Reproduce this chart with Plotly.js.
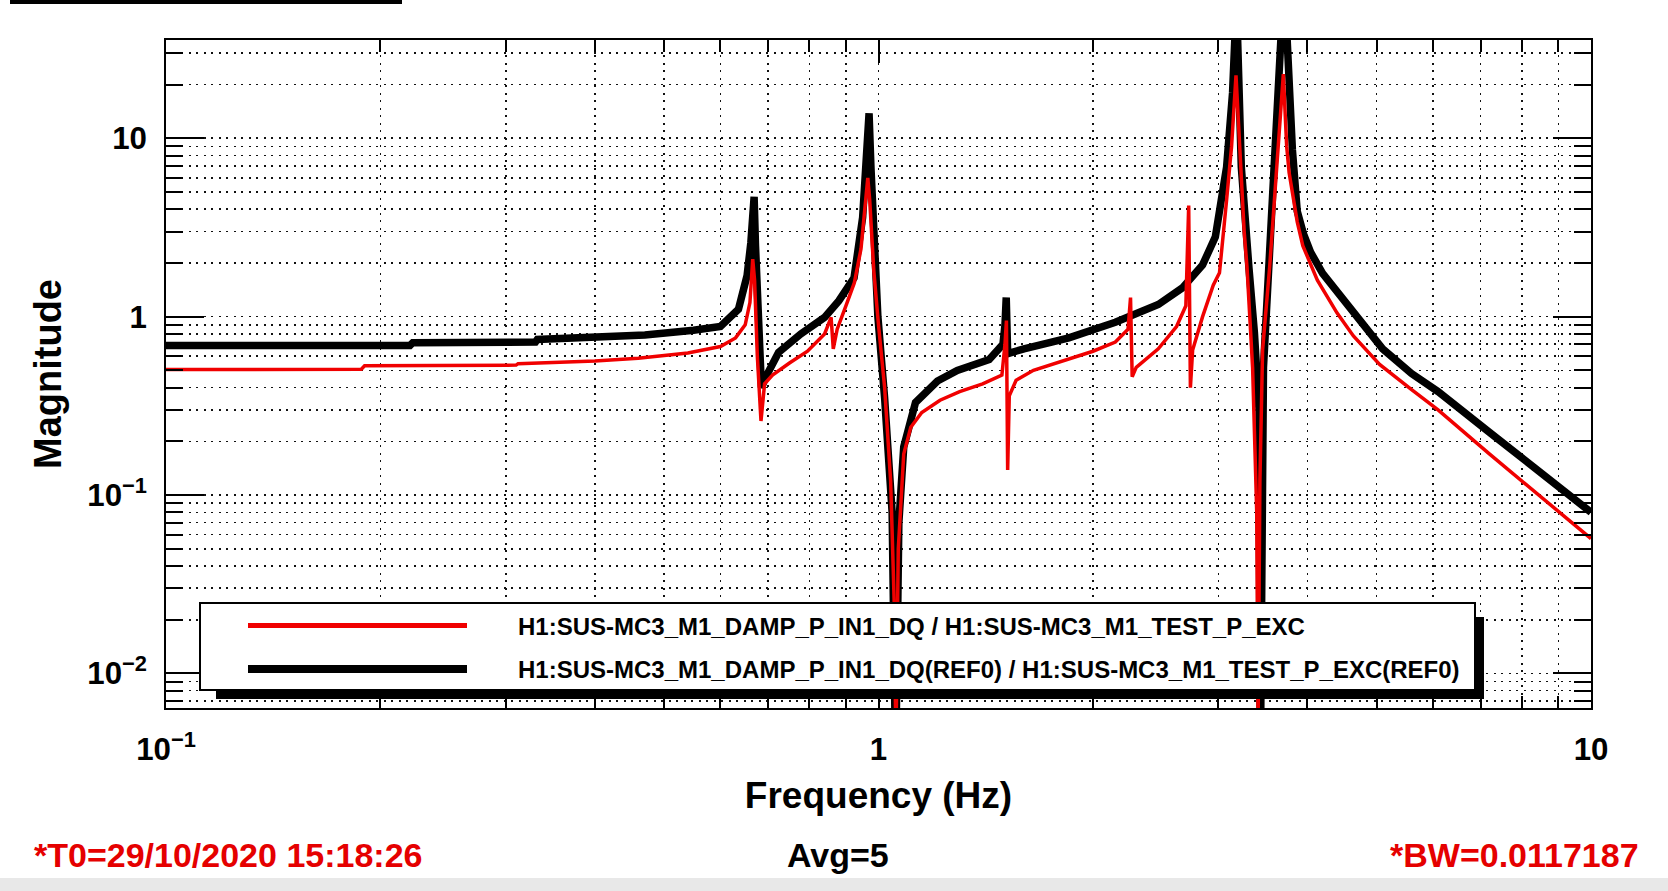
<!DOCTYPE html>
<html>
<head>
<meta charset="utf-8">
<script src="https://cdn.plot.ly/plotly-3.0.1.min.js"></script>
<style>html,body{margin:0;padding:0;background:#fff;}#chart{width:1668px;height:891px;}</style>
</head>
<body>
<div id="chart"></div>
<script>
// ---- data ----
// measurement: H1:SUS-MC3_M1_DAMP_P_IN1_DQ / H1:SUS-MC3_M1_TEST_P_EXC (red)
const measFreq = [0.100,0.188,0.190,0.310,0.312,0.400,0.460,0.540,0.600,0.630,0.650,0.660,0.666,0.670,0.676,0.684,0.692,0.710,0.750,0.795,0.840,0.858,0.864,0.875,0.900,0.925,0.945,0.958,0.966,0.972,0.985,1.000,1.020,1.040,1.052,1.058,1.066,1.085,1.110,1.150,1.220,1.300,1.400,1.490,1.505,1.512,1.518,1.526,1.560,1.650,1.850,2.000,2.150,2.240,2.258,2.270,2.300,2.470,2.620,2.700,2.725,2.740,2.760,2.850,2.950,3.010,3.080,3.130,3.175,3.220,3.260,3.290,3.350,3.395,3.410,3.430,3.460,3.540,3.620,3.660,3.700,3.740,3.770,3.870,3.940,4.130,4.400,4.640,5.050,5.600,6.100,7.200,8.500,10.00];
const measMag  = [0.505,0.507,0.530,0.535,0.545,0.565,0.585,0.625,0.680,0.760,0.900,1.200,2.100,1.600,0.600,0.260,0.420,0.470,0.550,0.640,0.800,0.990,0.660,0.850,1.150,1.550,2.400,4.000,6.000,4.500,1.800,0.900,0.400,0.120,0.025,0.004,0.050,0.170,0.240,0.290,0.340,0.380,0.420,0.470,0.700,0.950,0.138,0.360,0.440,0.500,0.580,0.640,0.720,0.850,1.280,0.460,0.520,0.660,0.880,1.150,4.200,0.400,0.650,1.000,1.500,1.760,4.500,9.000,22.50,7.500,3.000,1.900,0.520,0.080,0.005,0.120,0.650,1.900,6.400,12.00,22.90,9.000,6.400,3.400,2.500,1.600,1.050,0.780,0.540,0.390,0.300,0.170,0.098,0.057];
// reference: H1:SUS-MC3_M1_DAMP_P_IN1_DQ(REF0) / H1:SUS-MC3_M1_TEST_P_EXC(REF0) (black)
const refFreq = [0.100,0.220,0.222,0.330,0.332,0.417,0.470,0.550,0.600,0.636,0.654,0.662,0.669,0.672,0.678,0.685,0.695,0.724,0.778,0.840,0.880,0.924,0.950,0.960,0.970,0.976,0.984,0.998,1.020,1.045,1.057,1.068,1.085,1.127,1.210,1.290,1.430,1.495,1.505,1.511,1.518,1.600,1.850,2.150,2.470,2.670,2.850,2.970,3.080,3.140,3.180,3.230,3.310,3.370,3.420,3.435,3.470,3.540,3.620,3.710,3.810,3.870,3.950,4.040,4.200,4.450,4.640,5.100,5.600,6.100,7.200,8.500,9.500,10.00];
const refMag  = [0.690,0.690,0.715,0.720,0.745,0.770,0.790,0.840,0.880,1.100,1.700,2.600,4.700,2.500,0.900,0.400,0.460,0.630,0.800,0.990,1.230,1.650,3.600,7.500,13.80,6.800,3.300,1.000,0.350,0.080,0.003,0.070,0.186,0.330,0.436,0.500,0.575,0.700,0.900,1.280,0.620,0.660,0.760,0.930,1.170,1.450,1.950,2.800,6.900,18.00,60.00,6.900,1.900,0.810,0.300,0.003,0.520,1.900,8.600,80.00,8.600,3.900,2.900,2.300,1.750,1.300,1.050,0.660,0.480,0.380,0.225,0.135,0.095,0.080];

const legendLabels = ['H1:SUS-MC3_M1_DAMP_P_IN1_DQ / H1:SUS-MC3_M1_TEST_P_EXC',
                      'H1:SUS-MC3_M1_DAMP_P_IN1_DQ(REF0) / H1:SUS-MC3_M1_TEST_P_EXC(REF0)'];
const xTitle = 'Frequency (Hz)';
const yTitle = 'Magnitude';
const footLeft = '*T0=29/10/2020 15:18:26';
const footMid = 'Avg=5';
const footRight = '*BW=0.0117187';

// ---- styling / layout ----
const RED = '#f00000';
const FONT = 'Liberation Sans, Arial, Helvetica, sans-serif';
const L = 166, R = 1591, T = 40, B = 708;
const W = R - L, H = B - T;
const px = X => (X - L) / W;
const py = Y => (B - Y) / H;

const traces = [
  {x: refFreq, y: refMag, type: 'scatter', mode: 'lines', name: legendLabels[1],
   line: {color: '#000', width: 7.5}, hoverinfo: 'x+y'},
  {x: measFreq, y: measMag, type: 'scatter', mode: 'lines', name: legendLabels[0],
   line: {color: RED, width: 3.5}, hoverinfo: 'x+y'}
];

const gridDash = '2px,5.5px';
function axisCommon(majorLen, minorLen) {
  return {
    type: 'log', dtick: 1, exponentformat: 'power',
    ticks: 'inside', ticklen: majorLen, tickwidth: 2, tickcolor: '#000',
    showline: true, linewidth: 2, linecolor: '#000', mirror: 'allticks',
    showgrid: true, gridcolor: '#111', gridwidth: 1.6, griddash: gridDash,
    zeroline: false, automargin: false,
    tickfont: {family: FONT, size: 25, color: '#000', weight: 'bold'},
    minor: {ticks: 'inside', ticklen: minorLen, tickwidth: 2, tickcolor: '#000', dtick: 'D1',
            showgrid: true, gridcolor: '#111', gridwidth: 1.6, griddash: gridDash}
  };
}

const xaxis = Object.assign(axisCommon(23, 12), {
  range: [-1, 1], ticklabelstandoff: 14,
  title: {text: xTitle, standoff: 16, font: {family: FONT, size: 37, color: '#000', weight: 'bold'}}
});
const yaxis = Object.assign(axisCommon(38, 17), {
  range: [-2.194, 1.551], ticklabelstandoff: 12,
  title: {text: yTitle, standoff: 14, font: {family: FONT, size: 38, color: '#000', weight: 'bold'}}
});

const shapes = [
  {type: 'rect', xref: 'paper', yref: 'paper', x0: px(0), x1: px(1668), y0: py(891), y1: py(878),
   fillcolor: '#e8e8e8', line: {width: 0}},
  {type: 'rect', xref: 'paper', yref: 'paper', x0: px(10), x1: px(402), y0: py(4), y1: py(0),
   fillcolor: '#000', line: {width: 0}},
  // legend shadow + box
  {type: 'rect', xref: 'paper', yref: 'paper', x0: px(216), x1: px(1484), y0: py(699), y1: py(617),
   fillcolor: '#000', line: {width: 0}},
  {type: 'rect', xref: 'paper', yref: 'paper', x0: px(200), x1: px(1475), y0: py(690), y1: py(603),
   fillcolor: '#fff', line: {color: '#000', width: 2}},
  {type: 'line', xref: 'paper', yref: 'paper', x0: px(248), x1: px(467), y0: py(625.5), y1: py(625.5),
   line: {color: RED, width: 5}},
  {type: 'line', xref: 'paper', yref: 'paper', x0: px(248), x1: px(467), y0: py(669), y1: py(669),
   line: {color: '#000', width: 8}}
];

const ann = (text, X, Y, anchor, color, size) => ({
  text: text, xref: 'paper', yref: 'paper', x: px(X), y: py(Y), xanchor: anchor, yanchor: 'middle',
  showarrow: false, font: {family: FONT, size: size, color: color, weight: 'bold'}
});
const annotations = [
  ann(legendLabels[0], 516, 626, 'left', '#000', 24),
  ann(legendLabels[1], 516, 669, 'left', '#000', 24),
  ann(footLeft, 32, 855, 'left', '#e50000', 34),
  ann(footMid, 838, 855, 'center', '#000', 34),
  ann(footRight, 1641, 855, 'right', '#e50000', 34)
];

const layout = {
  width: 1668, height: 891,
  margin: {l: L, r: 1668 - R, t: T, b: 891 - B, pad: 0},
  paper_bgcolor: '#fff', plot_bgcolor: '#fff',
  showlegend: false,
  xaxis: xaxis, yaxis: yaxis,
  shapes: shapes, annotations: annotations,
  font: {family: FONT, color: '#000'}
};

Plotly.newPlot('chart', traces, layout, {staticPlot: true, displayModeBar: false});
</script>
</body>
</html>
